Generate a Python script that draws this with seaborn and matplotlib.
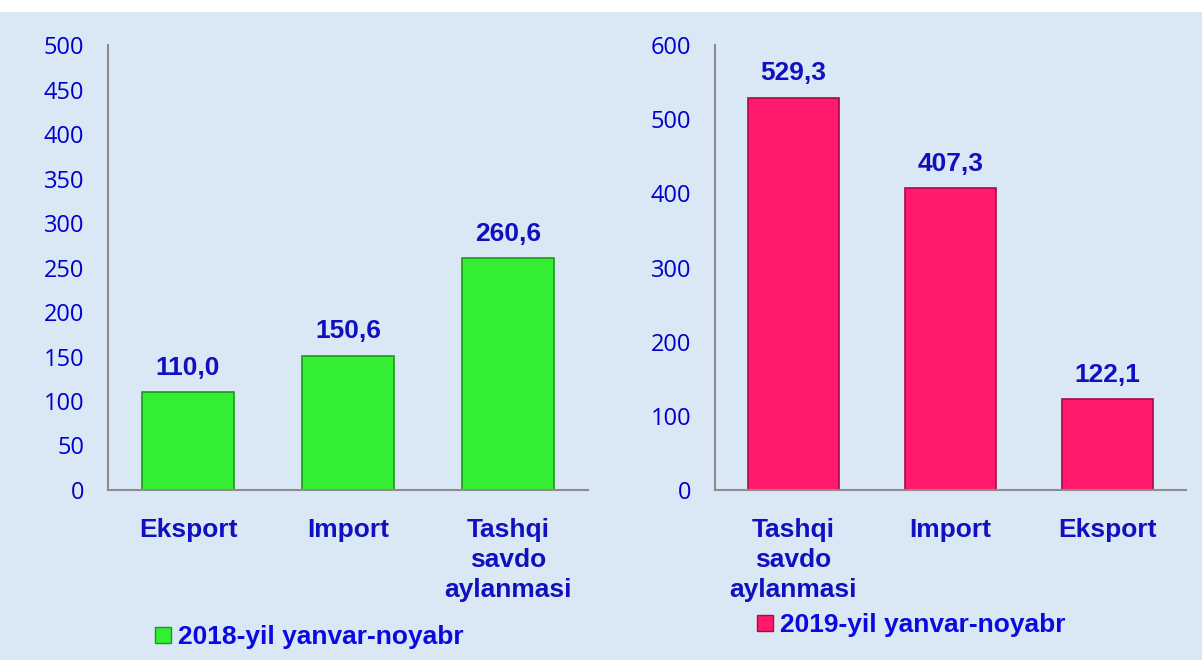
import matplotlib
matplotlib.use("Agg")
import matplotlib.pyplot as plt
import seaborn as sns
from matplotlib.lines import Line2D
from matplotlib.patches import Rectangle

sns.set_theme(style="white")
plt.rcParams['font.family'] = ['Liberation Sans', 'DejaVu Sans']

# Data
cats_2018 = ["Eksport", "Import", "Tashqi\nsavdo\naylanmasi"]
vals_2018 = [110.0, 150.6, 260.6]
cats_2019 = ["Tashqi\nsavdo\naylanmasi", "Import", "Eksport"]
vals_2019 = [529.3, 407.3, 122.1]
legend_2018 = "2018-yil yanvar-noyabr"
legend_2019 = "2019-yil yanvar-noyabr"

bg = "#DAE7F4"
tick_blue = "#0000CC"
text_blue = "#1010C0"

fig = plt.figure(figsize=(12.02, 6.6), dpi=100, facecolor=bg)
fig.patches.append(Rectangle((0, 0.982), 1, 0.018, transform=fig.transFigure,
                             facecolor="white", edgecolor="none", zorder=0))

ax1 = fig.add_axes([0.0899, 0.2576, 0.3993, 0.674])
ax2 = fig.add_axes([0.5948, 0.2576, 0.392, 0.674])


def draw(ax, cats, vals, color, edge, ymax, step):
    sns.barplot(x=cats, y=vals, color=color, ax=ax, width=0.575,
                edgecolor=edge, linewidth=1.2, saturation=1)
    ax.set_facecolor("none")
    ax.set_ylim(0, ymax)
    ax.set_yticks(range(0, ymax + 1, step))
    ax.set_xlim(-0.5, len(cats) - 0.5)
    for s in ["top", "right"]:
        ax.spines[s].set_visible(False)
    for s in ["left", "bottom"]:
        ax.spines[s].set_color("#8C8C8C")
        ax.spines[s].set_linewidth(1.5)
    ax.tick_params(axis="y", labelsize=17, colors=tick_blue, pad=17, length=0)
    ax.tick_params(axis="x", labelsize=19, colors=text_blue, pad=20, length=0)
    for lab in ax.get_xticklabels():
        lab.set_fontweight("bold")
        lab.set_linespacing(1.32)
        lab.set_verticalalignment("top")
    for lab in ax.get_yticklabels():
        lab.set_family(["Open Sans", "DejaVu Sans"])
    ax.bar_label(ax.containers[0], labels=[f"{v:.1f}".replace(".", ",") for v in vals],
                 padding=9, fontsize=19, fontweight="bold", color=text_blue)
    ax.set_xlabel("")
    ax.set_ylabel("")


draw(ax1, cats_2018, vals_2018, "#33EE33", "#1A9A1A", 500, 50)
draw(ax2, cats_2019, vals_2019, "#FF1A6E", "#A80A44", 600, 100)

h1 = Line2D([], [], marker="s", linestyle="none", markersize=12,
            markerfacecolor="#33EE33", markeredgecolor="#1A9A1A")
h2 = Line2D([], [], marker="s", linestyle="none", markersize=12,
            markerfacecolor="#FF1A6E", markeredgecolor="#A80A44")
fig.legend([h1], [legend_2018], loc="center left", bbox_to_anchor=(0.105, 0.035),
           frameon=False, handletextpad=0.05, handlelength=1.0,
           prop={"size": 19, "weight": "bold"}, labelcolor="#0A0AE0")
fig.legend([h2], [legend_2019], loc="center left", bbox_to_anchor=(0.606, 0.053),
           frameon=False, handletextpad=0.05, handlelength=1.0,
           prop={"size": 19, "weight": "bold"}, labelcolor="#0A0AE0")

fig.savefig("out.png", dpi=100, facecolor=bg)
